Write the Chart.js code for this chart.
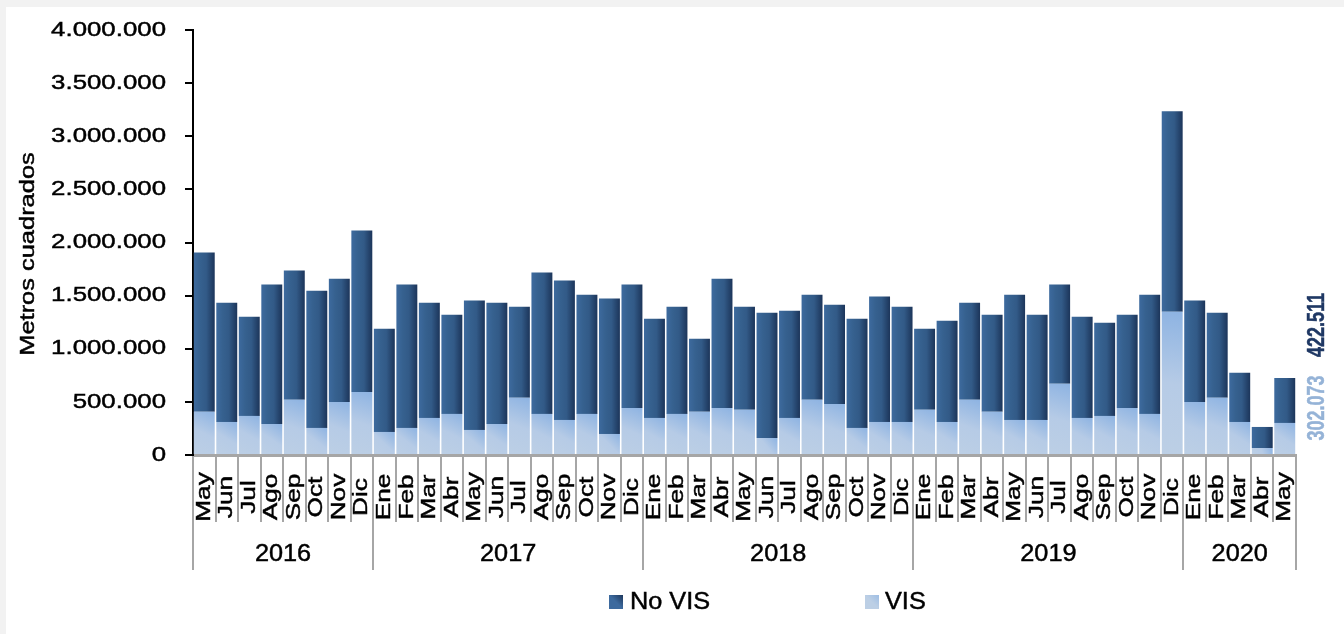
<!DOCTYPE html>
<html>
<head>
<meta charset="utf-8">
<script src="https://cdn.jsdelivr.net/npm/chart.js@4"></script>
<style>
	body { margin: 0; background: #f2f2f2; }
	.wrap { position: absolute; left: 6px; top: 7px; width: 1338px; height: 627px; background: #fff; }
</style>
</head>
<body>
<div class="wrap"><canvas id="area_m2"></canvas></div>
<script>
// Metros cuadrados licenciados por mes, VIS / No VIS
const months = [
	'May','Jun','Jul','Ago','Sep','Oct','Nov','Dic',
	'Ene','Feb','Mar','Abr','May','Jun','Jul','Ago','Sep','Oct','Nov','Dic',
	'Ene','Feb','Mar','Abr','May','Jun','Jul','Ago','Sep','Oct','Nov','Dic',
	'Ene','Feb','Mar','Abr','May','Jun','Jul','Ago','Sep','Oct','Nov','Dic',
	'Ene','Feb','Mar','Abr','May'
]
const years = ['2016','2017','2018','2019','2020']
const monthsPerYear = [8,12,12,12,5]

const dataVis = [
	406000,311000,368000,292000,519000,255000,500000,594000,
	217000,255000,349000,387000,236000,292000,538000,387000,330000,387000,198000,443000,
	349000,387000,406000,443000,425000,160000,349000,519000,481000,255000,311000,311000,
	425000,311000,519000,406000,330000,330000,670000,349000,368000,443000,387000,1349000,
	500000,538000,311000,66000,302073
]
const dataNoVis = [
	1500000,1123000,934000,1312000,1217000,1292000,1160000,1519000,
	972000,1349000,1085000,934000,1217000,1142000,858000,1330000,1312000,1122000,1274000,1161000,
	934000,1009000,688000,1217000,971000,1180000,1009000,990000,934000,1028000,1180000,1085000,
	764000,953000,915000,915000,1179000,991000,934000,953000,877000,878000,1122000,1887000,
	953000,802000,463000,198000,422511
]
const yTicks = [0,500000,1000000,1500000,2000000,2500000,3000000,3500000,4000000]

const FONT = '"Liberation Sans", Arial, sans-serif'
const darkBlue = '#36608f'
const lightBlue = '#b9cde5'

function formatNum(n){
	return String(n).replace(/\B(?=(\d{3})+(?!\d))/g, '.')
}

function drawText(ctx, text, x, y, o){
	ctx.save()
	ctx.translate(x, y)
	if(o.rotate) ctx.rotate(o.rotate)
	ctx.scale(o.stretch || 1, 1)
	ctx.font = (o.weight || 'normal') + ' ' + o.size + 'px ' + FONT
	ctx.fillStyle = o.color || '#000'
	ctx.textAlign = o.align || 'center'
	ctx.textBaseline = 'middle'
	ctx.fillText(text, 0, 0)
	// trazo fino para engrosar un poco la letra
	ctx.strokeStyle = o.color || '#000'
	ctx.lineWidth = 0.45
	ctx.strokeText(text, 0, 0)
	ctx.restore()
}

// sombreado de cada barra segun su posicion en la escala
function barGradient(context, dark){
	const chart = context.chart
	if(context.type !== 'data' || !chart.chartArea) return dark ? darkBlue : lightBlue
	const i = context.dataIndex
	const xs = chart.scales.x, ys = chart.scales.y
	const half = (chart.chartArea.right - chart.chartArea.left) / months.length * 0.93 / 2
	const cx = xs.getPixelForValue(i)
	const c = chart.ctx
	let g
	if(dark){
		g = c.createLinearGradient(cx - half, 0, cx + half, 0)
		g.addColorStop(0, '#3d6a9e')
		g.addColorStop(0.3, '#36618f')
		g.addColorStop(0.6, '#325a87')
		g.addColorStop(1, '#1c355a')
	}else{
		const y0 = ys.getPixelForValue(0)
		const y1 = ys.getPixelForValue(dataVis[i])
		g = c.createLinearGradient(cx - half, y0, cx + half, y1)
		g.addColorStop(0, '#bccfe5')
		g.addColorStop(0.5, '#b6cbe6')
		g.addColorStop(1, '#8db3e2')
	}
	return g
}

const decorations = {
	id: 'decorations',
	afterDraw(chart){
		const ctx = chart.ctx
		const area = chart.chartArea
		const xs = chart.scales.x, ys = chart.scales.y
		const step = (area.right - area.left) / months.length

		// etiquetas del eje y
		yTicks.forEach(v => {
			drawText(ctx, formatNum(v), area.left - 27, ys.getPixelForValue(v), {size: 20.5, stretch: 1.26, align: 'right'})
		})
		drawText(ctx, 'Metros cuadrados', 22, 247, {size: 20.5, stretch: 1.24, rotate: -Math.PI / 2})

		// separadores de meses y años
		ctx.save()
		ctx.strokeStyle = '#a6a6a6'
		ctx.lineWidth = 2
		const yearEdges = [0]
		monthsPerYear.forEach(n => yearEdges.push(yearEdges[yearEdges.length - 1] + n))
		for(let i = 0; i <= months.length; i++){
			const x = Math.round(area.left + i * step)
			const long = yearEdges.includes(i)
			ctx.beginPath()
			ctx.moveTo(x, area.bottom + 2)
			ctx.lineTo(x, area.bottom + (long ? 115 : 67))
			ctx.stroke()
		}
		ctx.restore()

		months.forEach((m, i) => {
			drawText(ctx, m, xs.getPixelForValue(i), area.bottom + 42, {size: 20.5, stretch: 1.28, rotate: -Math.PI / 2})
		})
		years.forEach((y, k) => {
			const x = area.left + (yearEdges[k] + yearEdges[k + 1]) / 2 * step
			drawText(ctx, y, x, area.bottom + 100, {size: 23, stretch: 1.1})
		})

		// valores del ultimo mes
		const last = months.length - 1
		drawText(ctx, formatNum(dataNoVis[last]), area.right + 22, 318, {size: 23, weight: 'bold', stretch: 0.78, rotate: -Math.PI / 2, color: '#1f3864'})
		drawText(ctx, formatNum(dataVis[last]), area.right + 22, 401, {size: 23, weight: 'bold', stretch: 0.78, rotate: -Math.PI / 2, color: '#95b3d7'})

		// leyenda
		const items = [
			{label: 'No VIS', box: 603, text: 624, c0: '#3d6a9e', c1: '#1d375b'},
			{label: 'VIS', box: 859, text: 879, c0: '#bccfe5', c1: '#9dbde4'}
		]
		items.forEach(it => {
			const g = ctx.createLinearGradient(it.box, 602, it.box + 14, 588)
			g.addColorStop(0, it.c0)
			g.addColorStop(0.5, it.c0)
			g.addColorStop(1, it.c1)
			ctx.fillStyle = g
			ctx.fillRect(it.box, 588, 14, 14)
			drawText(ctx, it.label, it.text, 596, {size: 23, stretch: 1.1, align: 'left'})
		})
	}
}

const ctx = document.getElementById('area_m2').getContext('2d')
const chartArea = new Chart(ctx, {
	type: 'bar',
	data: {
		labels: months,
		datasets: [
			{
				label: 'VIS',
				data: dataVis,
				backgroundColor: c => barGradient(c, false),
				barPercentage: 0.93,
				categoryPercentage: 1
			},
			{
				label: 'No VIS',
				data: dataNoVis,
				backgroundColor: c => barGradient(c, true),
				barPercentage: 0.93,
				categoryPercentage: 1
			}
		]
	},
	options: {
		responsive: true,
		maintainAspectRatio: false,
		animation: false,
		layout: { padding: { top: 23, right: 48, left: 0, bottom: 0 } },
		plugins: {
			legend: { display: false },
			tooltip: { enabled: false }
		},
		scales: {
			x: {
				stacked: true,
				ticks: { display: false },
				grid: { display: false },
				border: { display: true, color: '#a6a6a6', width: 3 },
				afterFit(scale){ scale.height = 179 }
			},
			y: {
				stacked: true,
				min: 0,
				max: 4000000,
				ticks: { display: false, stepSize: 500000 },
				grid: { drawOnChartArea: false, drawTicks: true, tickLength: 8, color: '#000', lineWidth: 2 },
				border: { display: true, color: '#000', width: 2 },
				afterFit(scale){ scale.width = 187 }
			}
		}
	},
	plugins: [decorations]
})
</script>
</body>
</html>
